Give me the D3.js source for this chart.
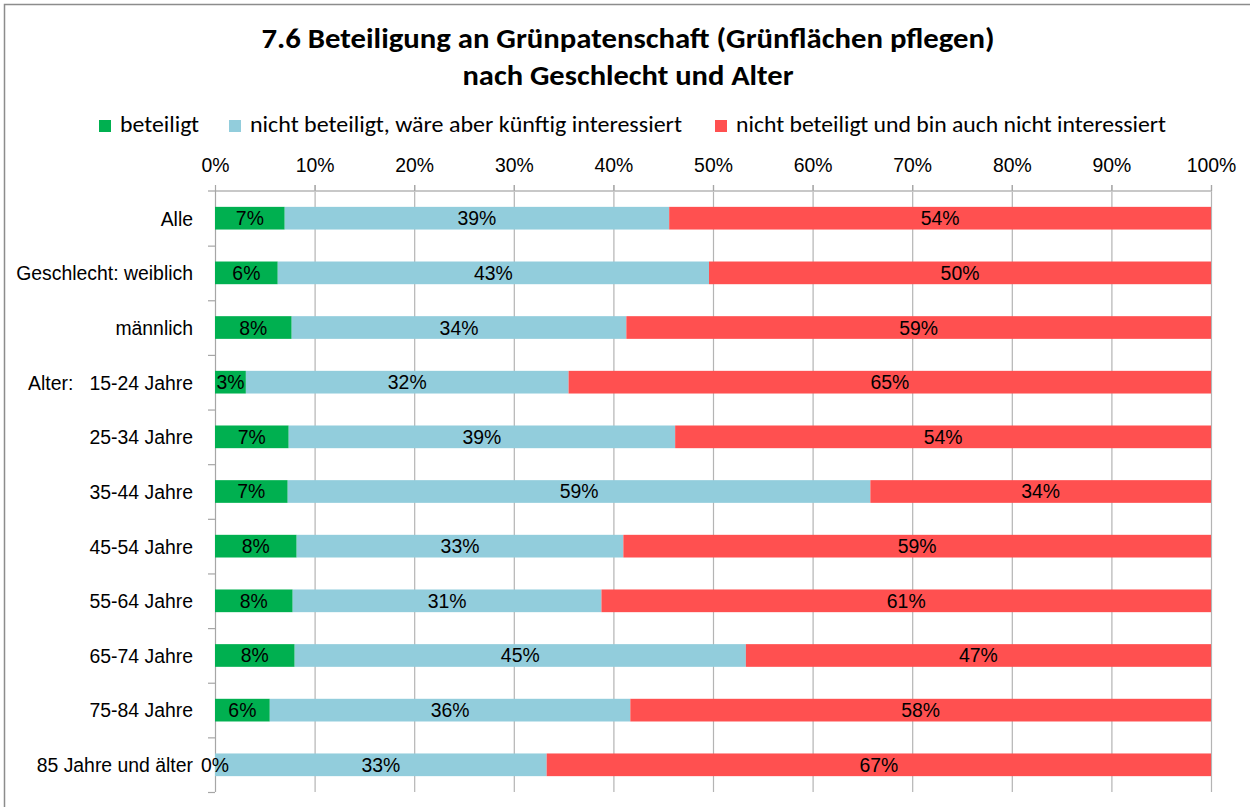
<!DOCTYPE html>
<html lang="de">
<head>
<meta charset="UTF-8">
<title>7.6 Beteiligung an Grünpatenschaft</title>
<script src="https://d3js.org/d3.v7.min.js"></script>
<style>
    body { margin: 0; background: #fff; }
    svg { display: block; }
    .lbl { font-family: "Liberation Sans", Arial, sans-serif; font-size: 19.4px; fill: #000; white-space: pre; }
    .title { font-family: Carlito, Lato, "Open Sans", sans-serif; font-weight: bold; font-size: 29px; fill: #000; }
    .legend { font-family: Carlito, Lato, "Open Sans", sans-serif; font-size: 22px; fill: #000; }
</style>
</head>
<body>
<script>
    // data (percent)
    var categories = ["Alle", "Geschlecht: weiblich", "männlich", "Alter:   15-24 Jahre", "25-34 Jahre",
        "35-44 Jahre", "45-54 Jahre", "55-64 Jahre", "65-74 Jahre", "75-84 Jahre", "85 Jahre und älter"];
    var beteiligt         = [7.0, 6.3, 7.7, 3.1, 7.4, 7.3, 8.2, 7.8, 8.0, 5.5, 0.0];
    var interessiert      = [38.6, 43.3, 33.6, 32.4, 38.8, 58.5, 32.8, 31.0, 45.3, 36.2, 33.3];
    var nichtInteressiert = [54.4, 50.4, 58.7, 64.5, 53.8, 34.2, 59.0, 61.2, 46.7, 58.3, 66.7];
    var seriesNames = ["beteiligt", "nicht beteiligt, wäre aber künftig interessiert",
        "nicht beteiligt und bin auch nicht interessiert"];
    var seriesColors = ["#00B050", "#92CDDC", "#FF5050"];
    var xTicks = [0, 10, 20, 30, 40, 50, 60, 70, 80, 90, 100];

    var W = 1250, H = 807;
    var margin = {top: 191, left: 215};

    var svg = d3.select("body").append("svg")
        .attr("width", W)
        .attr("height", H);

    // outer frame (cropped at right and bottom)
    svg.append("path")
        .attr("d", "M4.5," + H + "V4.5H" + W)
        .attr("fill", "none")
        .attr("stroke", "#8c8c8c")
        .attr("stroke-width", 1.5);

    svg.append("text").attr("class", "title")
        .attr("x", 628).attr("y", 48)
        .attr("text-anchor", "middle")
        .attr("textLength", 733).attr("lengthAdjust", "spacingAndGlyphs")
        .text("7.6 Beteiligung an Grünpatenschaft (Grünflächen pflegen)");
    svg.append("text").attr("class", "title")
        .attr("x", 628).attr("y", 85)
        .attr("text-anchor", "middle")
        .attr("textLength", 331).attr("lengthAdjust", "spacingAndGlyphs")
        .text("nach Geschlecht und Alter");

    // legend
    var legendX = [99, 229, 715];
    var legendLen = [79, 432, 430];
    var legend = svg.append("g");
    seriesNames.forEach(function (name, i) {
        legend.append("rect")
            .attr("x", legendX[i]).attr("y", 120)
            .attr("width", 12).attr("height", 12)
            .attr("fill", seriesColors[i]);
        legend.append("text").attr("class", "legend")
            .attr("x", legendX[i] + 21).attr("y", 132)
            .attr("textLength", legendLen[i]).attr("lengthAdjust", "spacingAndGlyphs")
            .text(name);
    });

    var g = svg.append("g")
        .attr("transform", "translate(" + margin.left + "," + margin.top + ")");

    var x = d3.scaleLinear().domain([0, 100]).range([0, 996]);
    var y = d3.scaleBand().domain(categories).range([0, 601]).paddingInner(0.585).paddingOuter(0.29);
    var yb = d3.scaleBand().domain(categories).range([0, 601]);

    // gridlines
    g.append("g").selectAll("line")
        .data(xTicks.slice(1))
        .enter().append("line")
        .attr("x1", function (d) { return x(d) + 0.5; })
        .attr("x2", function (d) { return x(d) + 0.5; })
        .attr("y1", -6).attr("y2", 601)
        .attr("stroke", "#b4b4b4").attr("stroke-width", 1.2);

    // top axis
    var xAxis = g.append("g")
        .call(d3.axisTop(x).tickValues(xTicks).tickSize(6).tickPadding(13)
            .tickFormat(function (d) { return d + "%"; }));
    xAxis.select(".domain").attr("stroke", "#c8c8c8").attr("stroke-width", 2)
        .attr("d", "M-7,0H" + (x(100) + 0.5));
    xAxis.selectAll(".tick line").attr("stroke", "#a6a6a6").attr("stroke-width", 1.2);
    xAxis.selectAll(".tick text").attr("class", "lbl").attr("fill", "#000");

    // left axis line with category boundaries
    g.append("line")
        .attr("x1", 0.5).attr("x2", 0.5).attr("y1", 0).attr("y2", 601)
        .attr("stroke", "#a6a6a6").attr("stroke-width", 1.2);
    g.append("g").selectAll("line")
        .data(categories)
        .enter().append("line")
        .attr("x1", -7).attr("x2", 0)
        .attr("y1", function (d) { return yb(d) + yb.bandwidth() + 0.5; })
        .attr("y2", function (d) { return yb(d) + yb.bandwidth() + 0.5; })
        .attr("stroke", "#a6a6a6").attr("stroke-width", 1.2);

    // category labels
    g.append("g").selectAll("text")
        .data(categories)
        .enter().append("text")
        .attr("class", "lbl")
        .attr("x", -22)
        .attr("y", function (d) { return yb(d) + yb.bandwidth() / 2; })
        .attr("dy", "0.38em")
        .attr("text-anchor", "end")
        .attr("xml:space", "preserve")
        .text(function (d) { return d; });

    // stacked bars
    var rows = categories.map(function (c, i) {
        return {cat: c, vals: [beteiligt[i], interessiert[i], nichtInteressiert[i]]};
    });
    var segs = [];
    rows.forEach(function (r) {
        var acc = 0;
        r.vals.forEach(function (v, k) {
            segs.push({cat: r.cat, k: k, x0: acc, x1: acc + v, v: v});
            acc += v;
        });
    });

    g.append("g").selectAll("rect")
        .data(segs)
        .enter().append("rect")
        .attr("x", function (d) { return x(d.x0); })
        .attr("width", function (d) { return x(d.x1) - x(d.x0); })
        .attr("y", function (d) { return y(d.cat); })
        .attr("height", y.bandwidth())
        .attr("fill", function (d) { return seriesColors[d.k]; });

    g.append("g").selectAll("text")
        .data(segs)
        .enter().append("text")
        .attr("class", "lbl")
        .attr("x", function (d) { return x((d.x0 + d.x1) / 2); })
        .attr("y", function (d) { return y(d.cat) + y.bandwidth() / 2; })
        .attr("dy", "0.36em")
        .attr("text-anchor", "middle")
        .text(function (d) { return Math.round(d.v) + "%"; });
</script>
</body>
</html>
